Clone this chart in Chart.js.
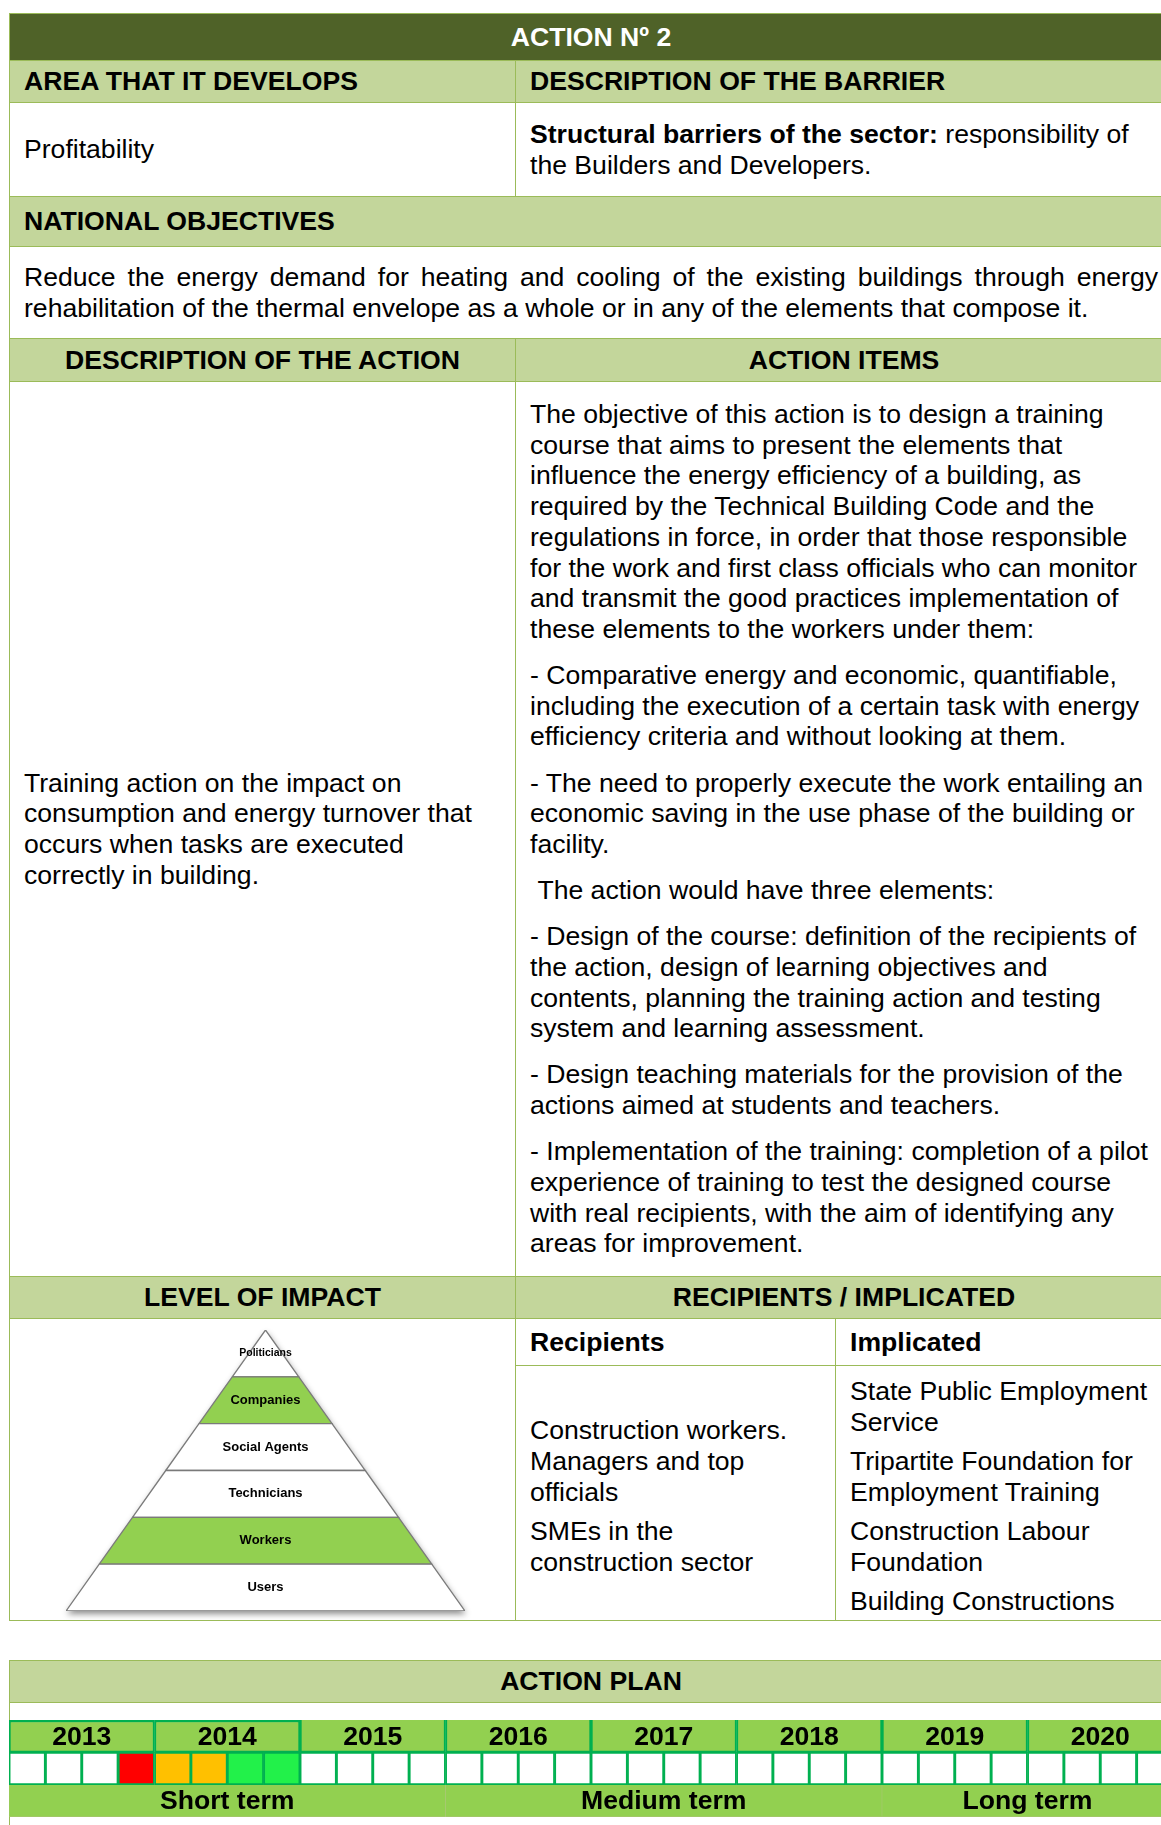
<!DOCTYPE html>
<html>
<head>
<meta charset="utf-8">
<script src="https://cdn.jsdelivr.net/npm/chart.js@4.4.1/dist/chart.umd.min.js"></script>
<style>
html,body{margin:0;padding:0;background:#fff;overflow:hidden;width:1161px;height:1825px;}
body{position:relative;font-family:"Liberation Sans",Arial,sans-serif;color:#000;}
.c{position:absolute;box-sizing:border-box;border:1px solid #9BBB59;display:flex;align-items:center;
   font-size:26.6px;line-height:30.7px;padding:0 14px;white-space:nowrap;}
.dark{background:#4F6228;color:#fff;font-weight:bold;justify-content:center;}
.lt{background:#C3D69B;font-weight:bold;}
.ctr{justify-content:center;}
.c p{margin:0;}
.big p+p{margin-top:15.4px;}
.sm{padding-top:7px;}
.sm p+p{margin-top:8.6px;}
.jl{text-align:justify;text-align-last:justify;}
canvas{position:absolute;}
</style>
</head>
<body>
<div class="c dark" style="left:9px;top:13px;width:1164px;height:48px;">ACTION Nº 2</div>
<div class="c lt" style="left:9px;top:60px;width:507px;height:43px;">AREA THAT IT DEVELOPS</div>
<div class="c lt" style="left:515px;top:60px;width:658px;height:43px;">DESCRIPTION OF THE BARRIER</div>
<div class="c" style="left:9px;top:102px;width:507px;height:95px;">Profitability</div>
<div class="c" style="left:515px;top:102px;width:658px;height:95px;"><div><b>Structural barriers of the sector:</b> responsibility of<br>the Builders and Developers.</div></div>
<div class="c lt" style="left:9px;top:196px;width:1164px;height:51px;">NATIONAL OBJECTIVES</div>
<div class="c" style="left:9px;top:246px;width:1164px;height:93px;"><div style="width:1135px;"><div class="jl">Reduce the energy demand for heating and cooling of the existing buildings through energy</div><div>rehabilitation of the thermal envelope as a whole or in any of the elements that compose it.</div></div></div>
<div class="c lt ctr" style="left:9px;top:338px;width:507px;height:44px;">DESCRIPTION OF THE ACTION</div>
<div class="c lt ctr" style="left:515px;top:338px;width:658px;height:44px;">ACTION ITEMS</div>
<div class="c" style="left:9px;top:381px;width:507px;height:896px;"><div>Training action on the impact on<br>consumption and energy turnover that<br>occurs when tasks are executed<br>correctly in building.</div></div>
<div class="c big" style="left:515px;top:381px;width:658px;height:896px;"><div>
<p>The objective of this action is to design a training<br>course that aims to present the elements that<br>influence the energy efficiency of a building, as<br>required by the Technical Building Code and the<br>regulations in force, in order that those responsible<br>for the work and first class officials who can monitor<br>and transmit the good practices implementation of<br>these elements to the workers under them:</p>
<p>- Comparative energy and economic, quantifiable,<br>including the execution of a certain task with energy<br>efficiency criteria and without looking at them.</p>
<p>- The need to properly execute the work entailing an<br>economic saving in the use phase of the building or<br>facility.</p>
<p>&nbsp;The action would have three elements:</p>
<p>- Design of the course: definition of the recipients of<br>the action, design of learning objectives and<br>contents, planning the training action and testing<br>system and learning assessment.</p>
<p>- Design teaching materials for the provision of the<br>actions aimed at students and teachers.</p>
<p>- Implementation of the training: completion of a pilot<br>experience of training to test the designed course<br>with real recipients, with the aim of identifying any<br>areas for improvement.</p>
</div></div>
<div class="c lt ctr" style="left:9px;top:1276px;width:507px;height:43px;">LEVEL OF IMPACT</div>
<div class="c lt ctr" style="left:515px;top:1276px;width:658px;height:43px;">RECIPIENTS / IMPLICATED</div>
<div class="c" style="left:9px;top:1318px;width:507px;height:303px;"></div>
<div class="c" style="left:515px;top:1318px;width:321px;height:48px;font-weight:bold;">Recipients</div>
<div class="c" style="left:835px;top:1318px;width:338px;height:48px;font-weight:bold;">Implicated</div>
<div class="c sm" style="left:515px;top:1365px;width:321px;height:256px;"><div>
<p>Construction workers.<br>Managers and top<br>officials</p>
<p>SMEs in the<br>construction sector</p>
</div></div>
<div class="c sm" style="left:835px;top:1365px;width:338px;height:256px;"><div>
<p>State Public Employment<br>Service</p>
<p>Tripartite Foundation for<br>Employment Training</p>
<p>Construction Labour<br>Foundation</p>
<p>Building Constructions</p>
</div></div>

<div class="c lt ctr" style="left:9px;top:1660px;width:1164px;height:43px;">ACTION PLAN</div>
<div class="c" style="left:9px;top:1702px;width:1164px;height:160px;"></div>

<canvas id="pyr" width="505" height="301" style="left:10px;top:1319px;"></canvas>
<canvas id="plan" width="1164" height="97" style="left:9px;top:1720px;"></canvas>

<script>
// ---- Level of impact (pyramid), bottom to top ----
const pyramidLevels = ['Users', 'Workers', 'Technicians', 'Social Agents', 'Companies', 'Politicians'];
const levelImpacted = [false, true, false, false, true, false];

// ---- Action plan ----
const years = ['2013', '2014', '2015', '2016', '2017', '2018', '2019', '2020'];
// phase per quarter (0 = none, 1 = start, 2 = development, 3 = implementation)
const quarterPhase = [0, 0, 0, 1,  2, 2, 3, 3,  0, 0, 0, 0,  0, 0, 0, 0,
                      0, 0, 0, 0,  0, 0, 0, 0,  0, 0, 0, 0,  0, 0, 0, 0];
const terms = ['Short term', 'Medium term', 'Long term'];
const termYearCount = [3, 3, 2];

// ---- styles ----
const FONT = '"Liberation Sans", Arial, sans-serif';
const phaseColors = ['#FFFFFF', '#FF0000', '#FFC000', '#22F14A'];
const LIGHT = '#92D050', DARK = '#00B050';

Chart.defaults.font.family = FONT;

// Pyramid
const nLev = pyramidLevels.length;
const halfW = y => 1 - y / nLev;
const pyrDatasets = pyramidLevels.map((name, i) => ({
  label: name,
  data: [
    {x: -halfW(i), y: i}, {x: halfW(i), y: i},
    {x: halfW(i + 1), y: i + 1}, {x: -halfW(i + 1), y: i + 1},
    {x: -halfW(i), y: i}
  ],
  showLine: true,
  fill: 'shape',
  backgroundColor: levelImpacted[i] ? LIGHT : '#FFFFFF',
  borderColor: '#7A7A7A',
  borderWidth: 1.3,
  pointRadius: 0,
  tension: 0
}));

const pyrShadow = {
  id: 'pyrShadow',
  beforeDatasetsDraw(chart) {
    const {ctx, scales: {x, y}} = chart;
    ctx.save();
    ctx.shadowColor = 'rgba(0,0,0,0.45)';
    ctx.shadowBlur = 6;
    ctx.shadowOffsetY = 3;
    ctx.shadowOffsetX = 1;
    ctx.fillStyle = '#fff';
    ctx.beginPath();
    ctx.moveTo(x.getPixelForValue(-1), y.getPixelForValue(0));
    ctx.lineTo(x.getPixelForValue(1), y.getPixelForValue(0));
    ctx.lineTo(x.getPixelForValue(0), y.getPixelForValue(nLev));
    ctx.closePath();
    ctx.fill();
    ctx.restore();
  }
};
const pyrLabels = {
  id: 'pyrLabels',
  afterDatasetsDraw(chart) {
    const {ctx, scales: {x, y}} = chart;
    ctx.save();
    ctx.fillStyle = '#000';
    ctx.textAlign = 'center';
    ctx.textBaseline = 'middle';
    pyramidLevels.forEach((name, i) => {
      const size = i === nLev - 1 ? 10.5 : 13;
      ctx.font = 'bold ' + size + 'px ' + FONT;
      ctx.fillText(name, x.getPixelForValue(0), y.getPixelForValue(i + 0.5));
    });
    ctx.restore();
  }
};

new Chart(document.getElementById('pyr'), {
  type: 'scatter',
  data: {datasets: pyrDatasets},
  options: {
    responsive: false,
    animation: false,
    layout: {padding: {left: 56, right: 50, top: 11, bottom: 9}},
    scales: {
      x: {type: 'linear', min: -1, max: 1, display: false},
      y: {type: 'linear', min: 0, max: nLev, display: false}
    },
    plugins: {legend: {display: false}, tooltip: {enabled: false}}
  },
  plugins: [pyrShadow, pyrLabels]
});

// Action plan timeline
const qPerYear = 4;
const yearActive = years.map((y, i) => quarterPhase.slice(i * qPerYear, (i + 1) * qPerYear).some(p => p > 0));
let acc = 0;
const termRanges = termYearCount.map(n => { const r = [acc * qPerYear, (acc + n) * qPerYear]; acc += n; return r; });

const cellLabels = {
  id: 'cellLabels',
  afterDatasetsDraw(chart) {
    const ctx = chart.ctx;
    ctx.save();
    ctx.font = 'bold 26.6px ' + FONT;
    ctx.fillStyle = '#000';
    ctx.textAlign = 'center';
    ctx.textBaseline = 'middle';
    chart.data.datasets.forEach((ds, di) => {
      if (!ds.cellText) return;
      chart.getDatasetMeta(di).data.forEach((el, i) => {
        ctx.fillText(ds.cellText[i], (el.x + el.base) / 2, el.y + 1);
      });
    });
    ctx.restore();
  }
};

new Chart(document.getElementById('plan'), {
  type: 'bar',
  data: {
    labels: ['year', 'quarter', 'term'],
    datasets: [
      {
        label: 'Quarters',
        data: quarterPhase.map((p, i) => ({x: [i, i + 1], y: 'quarter'})),
        backgroundColor: quarterPhase.map(p => phaseColors[p]),
        borderColor: DARK,
        borderWidth: 1.8,
        borderSkipped: false
      },
      {
        label: 'Years',
        data: years.map((y, i) => ({x: [i * qPerYear, (i + 1) * qPerYear], y: 'year'})),
        cellText: years,
        backgroundColor: LIGHT,
        borderColor: DARK,
        borderWidth: ctx => ({left: 2, right: 2, bottom: 2, top: yearActive[ctx.dataIndex] ? 2.5 : 0}),
        borderSkipped: false
      },
      {
        label: 'Terms',
        data: termRanges.map(r => ({x: r, y: 'term'})),
        cellText: terms,
        backgroundColor: LIGHT,
        borderColor: '#A6C46E',
        borderWidth: {left: 0.6, right: 0.6, top: 0, bottom: 1},
        borderSkipped: false
      }
    ]
  },
  options: {
    indexAxis: 'y',
    responsive: false,
    animation: false,
    grouped: false,
    categoryPercentage: 1,
    barPercentage: 1,
    layout: {padding: 0},
    scales: {
      x: {type: 'linear', min: 0, max: quarterPhase.length, display: false},
      y: {type: 'category', display: false, offset: true}
    },
    plugins: {legend: {display: false}, tooltip: {enabled: false}}
  },
  plugins: [cellLabels]
});
</script>
</body>
</html>
